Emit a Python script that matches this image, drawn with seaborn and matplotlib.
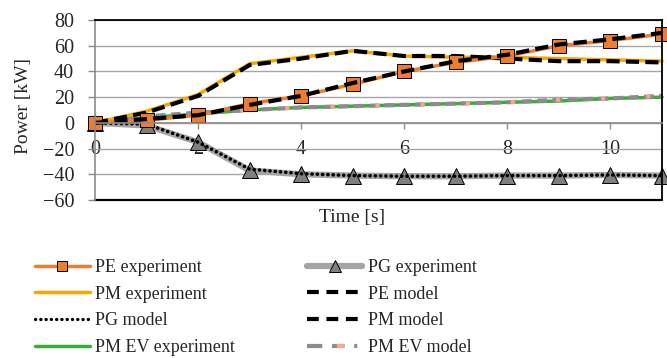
import numpy as np
import pandas as pd
import matplotlib
matplotlib.use("Agg")
import matplotlib.pyplot as plt
import seaborn as sns
from matplotlib.lines import Line2D
from matplotlib.legend_handler import HandlerTuple

# data
time_s = [0, 1, 2, 3, 4, 5, 6, 7, 8, 9, 10, 11]
pe_experiment = [0, 2, 6, 15, 21, 30, 40, 47, 52, 60, 64, 69]
pe_model = [0, 3, 6, 14, 21, 31, 40, 48, 53, 61, 65, 70]
pm_experiment = [0, 9, 22, 46, 51, 56, 52, 51, 51, 50, 49, 48]
pm_model = [0, 8, 21, 45, 50, 56, 52, 52, 50, 48, 48, 47]
pg_experiment = [0, -2, -15, -37, -40, -41, -41.5, -41.5, -41, -41, -40.5, -41]
pg_model = [0, -1, -15, -36, -39.5, -41, -41.5, -41.5, -41, -41, -40.5, -41]
pmev_experiment = [0, 4, 7, 10, 12, 13, 14, 15, 16, 17, 19, 20]
pmev_model = [0, 5, 8, 10, 12, 13, 14, 15, 16, 18, 19, 21]

sns.set_style("white")
plt.rcParams['font.family'] = ['Liberation Serif', 'DejaVu Serif']
plt.rcParams['lines.scale_dashes'] = False

fig = plt.figure(figsize=(6.67, 3.58), dpi=100)
ax = fig.add_axes([0.1424, 0.4413, 0.8501, 0.5028])

orange = '#ED7D31'
gold = '#F5A800'
grey = '#A5A5A5'
green = '#3DAA3D'
salmon = '#F4A98A'
dash_black = (9.5, 4.5)
dots = (0.1, 3.7)

# experiment lines first, model lines drawn on top
sns.lineplot(x=time_s, y=pmev_experiment, ax=ax, color=green, lw=2.5, label='PM EV experiment')
l_ev1 = sns.lineplot(x=time_s, y=pmev_model, ax=ax, color='#8C8C8C', lw=3).lines[-1]
l_ev1.set_dashes((7, 4))
l_ev2 = sns.lineplot(x=time_s, y=pmev_model, ax=ax, color=salmon, lw=3).lines[-1]
l_ev2.set_dashes((0, 7.5, 3, 22))

sns.lineplot(x=time_s, y=pg_experiment, ax=ax, color=grey, lw=4.5,
             marker='^', markersize=11, markerfacecolor='#7F7F7F',
             markeredgecolor='black', markeredgewidth=0.7, label='PG experiment')
l_pgm = sns.lineplot(x=time_s, y=pg_model, ax=ax, color='black', lw=2.6).lines[-1]
l_pgm.set_dashes(dots)
l_pgm.set_dash_capstyle('round')

sns.lineplot(x=time_s, y=pm_experiment, ax=ax, color=gold, lw=2.5, label='PM experiment')
l_pmm = sns.lineplot(x=time_s, y=pm_model, ax=ax, color='black', lw=3).lines[-1]
l_pmm.set_dashes(dash_black)

sns.lineplot(x=time_s, y=pe_experiment, ax=ax, color=orange, lw=2.5,
             marker='s', markersize=10, markerfacecolor=orange,
             markeredgecolor='black', markeredgewidth=0.7, label='PE experiment')
l_pem = sns.lineplot(x=time_s, y=pe_model, ax=ax, color='black', lw=3).lines[-1]
l_pem.set_dashes(dash_black)

if ax.get_legend() is not None:
    ax.get_legend().remove()

for ln in ax.lines:
    ln.set_clip_on(False)

ax.set_xlim(0, 11)
ax.set_ylim(-60, 80)
ax.set_xticks([0, 2, 4, 6, 8, 10])
ax.set_yticks(range(-60, 81, 20))
ax.yaxis.grid(True, color='#A6A6A6', lw=1)
ax.set_axisbelow(True)

for s in ['top', 'right']:
    ax.spines[s].set_color('black')
    ax.spines[s].set_linewidth(1.3)
    ax.spines[s].set_visible(True)
ax.spines['left'].set_color('#8C8C8C')
ax.spines['left'].set_linewidth(1.2)
ax.spines['bottom'].set_position(('data', 0))
ax.spines['bottom'].set_color('#8C8C8C')
ax.spines['bottom'].set_linewidth(1.2)
ax.axhline(-60, color='black', lw=1.6, clip_on=False, zorder=1)

ax.tick_params(axis='y', direction='out', length=5, width=1, color='#8C8C8C',
               pad=10, labelsize=14.5, left=True)
ax.tick_params(axis='x', direction='out', length=4, width=1, color='#8C8C8C',
               pad=8, labelsize=14.5, bottom=True)

ax.set_xlabel('Time [s]', fontsize=14)
ax.set_ylabel('Power [kW]', fontsize=14)
ax.xaxis.set_label_coords(0.453, -0.05)
ax.yaxis.set_label_coords(-0.111, 0.52)

# legend, column-major order
h = {ln.get_label(): ln for ln in ax.lines}
pg_leg = Line2D([], [], color='black', lw=2.4, dashes=(0.1, 3.7), dash_capstyle='round')
pe_leg = Line2D([], [], color='black', lw=3, dashes=(8.5, 5.5))
ev_a = Line2D([], [], color='#8C8C8C', lw=3, dashes=(11, 7, 9, 7, 2.2, 20))
ev_b = Line2D([], [], color=salmon, lw=3, dashes=(0, 21.5, 5.5, 60))
handles = [h['PE experiment'], h['PM experiment'], pg_leg, h['PM EV experiment'],
           h['PG experiment'], pe_leg, pe_leg, (ev_a, ev_b)]
labels = ['PE experiment', 'PM experiment', 'PG model', 'PM EV experiment',
          'PG experiment', 'PE model', 'PM model', 'PM EV model']
fig.legend(handles, labels, ncol=2, loc='upper left', bbox_to_anchor=(0.0275, 0.322),
           frameon=False, fontsize=13, handlelength=3.05, handletextpad=0.3,
           columnspacing=4.0, labelspacing=0.54, markerscale=0.75,
           handler_map={tuple: HandlerTuple(ndivide=1, pad=0)})

fig.savefig('out.png', dpi=100)
